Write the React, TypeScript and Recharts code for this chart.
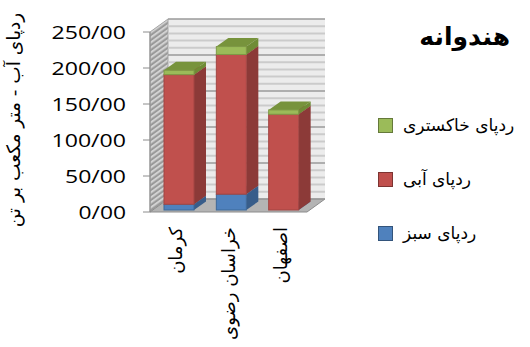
import { Bar, BarChart, CartesianGrid, Legend, XAxis, YAxis } from "recharts"

const categories = ["کرمان", "خراسان رضوی", "اصفهان"]
const greenPrint = [8, 22, 0]
const bluePrint = [180, 194, 133]
const greyPrint = [6, 11, 6]
const yTicks = [0, 50, 100, 150, 200, 250]
const minorTicks = [
	10, 20, 30, 40, 60, 70, 80, 90, 110, 120, 130, 140, 160, 170, 180, 190, 210, 220, 230, 240,
]
const legendOrder = ["grey", "blue", "green"]

const title = "هندوانه"
const yLabel = "ردپای آب - متر مکعب بر تن"

const data = categories.map((name, i) => ({
	name,
	green: greenPrint[i],
	blue: bluePrint[i],
	grey: greyPrint[i],
}))

// front plane of the plot and the 3D offsets used for walls and bars
const W = 530
const H = 347
const PLOT = { left: 150, top: 32, right: 307, bottom: 212 }
const WALL = { dx: 18, dy: -13 }
const BAR_SHIFT = { dx: 3, dy: -2 }
const BAR_DEPTH = { dx: 12, dy: -8.5 }

const faces = {
	green: { front: "#4f81bd", side: "#385d8a", top: "#3f6ea5", edge: "#3d6898" },
	blue: { front: "#c0504d", side: "#8c3a38", top: "#a04340", edge: "#a34542" },
	grey: { front: "#9bbb59", side: "#6f8c36", top: "#77933c", edge: "#7e9a46" },
}

const persian = "'DejaVu Sans', sans-serif"
const latin = "'Open Sans', 'DejaVu Sans', sans-serif"

const shape3D = (f: { front: string; side: string; top: string; edge: string }) => (props: any) => {
	const { x, y, width, height } = props
	if (width == null || height == null) return null
	const fx = x + BAR_SHIFT.dx
	const fy = y + BAR_SHIFT.dy
	const { dx, dy } = BAR_DEPTH
	return (
		<g>
			<polygon
				points={`${fx},${fy} ${fx + dx},${fy + dy} ${fx + width + dx},${fy + dy} ${fx + width},${fy}`}
				fill={f.top}
			/>
			<polygon
				points={`${fx + width},${fy} ${fx + width + dx},${fy + dy} ${fx + width + dx},${fy + height + dy} ${fx + width},${fy + height}`}
				fill={f.side}
			/>
			<rect x={fx} y={fy} width={width} height={height} fill={f.front} stroke={f.edge} strokeWidth={1} />
		</g>
	)
}

const YTick = ({ x, y, payload }: any) => {
	const text = `${payload.value}/00`
	return (
		<text
			x={x}
			y={y}
			dy="0.36em"
			textAnchor="end"
			fontFamily={latin}
			fontSize={18.5}
			fill="#000"
			textLength={13.5 * (text.length - 1) + 7}
			lengthAdjust="spacingAndGlyphs"
		>
			{text}
		</text>
	)
}

const XTick = ({ x, payload }: any) => (
	<text
		transform={`translate(${x}, ${PLOT.bottom + 15}) rotate(-90)`}
		dy="0.35em"
		textAnchor="end"
		fontFamily={persian}
		fontSize={18}
		fill="#000"
	>
		{payload.value}
	</text>
)

const YTitle = ({ viewBox }: any) => {
	const cy = viewBox.y + viewBox.height / 2 - 2
	return (
		<text
			transform={`translate(14, ${cy}) rotate(-90)`}
			dy="0.35em"
			textAnchor="middle"
			fontFamily={persian}
			fontSize={18.5}
			fill="#000"
		>
			{yLabel}
		</text>
	)
}

const gridLine = (stroke: string, width: number) => (props: any) => {
	const { x1, y1, x2, y2 } = props
	return (
		<line
			key={props.key ?? `${y1}`}
			x1={x1 + WALL.dx}
			y1={y1 + WALL.dy}
			x2={x2 + WALL.dx}
			y2={y2 + WALL.dy}
			stroke={stroke}
			strokeWidth={width}
		/>
	)
}

const LegendBox = ({ payload }: any) => {
	const items = [...(payload ?? [])].sort(
		(a: any, b: any) => legendOrder.indexOf(a.dataKey) - legendOrder.indexOf(b.dataKey),
	)
	return (
		<div style={{ fontFamily: persian, fontSize: 17 }}>
			{items.map((p: any, i: number) => (
				<div
					key={p.value}
					style={{ display: "flex", alignItems: "center", height: 26, marginBottom: i < 2 ? 28 : 0 }}
				>
					<span
						style={{
							width: 13,
							height: 13,
							background: p.color,
							border: "1px solid rgba(0,0,0,0.35)",
							marginRight: 10,
						}}
					/>
					<span style={{ direction: "rtl" }}>{p.value}</span>
				</div>
			))}
		</div>
	)
}

// walls, floor and title drawn behind the chart
const Backdrop = () => {
	const { left, top, right, bottom } = PLOT
	const { dx, dy } = WALL
	return (
		<svg width={W} height={H} style={{ position: "absolute", left: 0, top: 0 }}>
			<defs>
				<pattern
					id="sideHatch"
					patternUnits="userSpaceOnUse"
					width={18}
					height={5}
					patternTransform="skewY(-35.8)"
				>
					<rect width={18} height={5} fill="#d2d2d2" />
					<rect y={2.5} width={18} height={2.5} fill="#999" />
				</pattern>
			</defs>
			<rect x={left + dx} y={top + dy} width={right - left} height={bottom - top} fill="#ececec" />
			<polygon
				points={`${left},${top} ${left + dx},${top + dy} ${left + dx},${bottom + dy} ${left},${bottom}`}
				fill="url(#sideHatch)"
				stroke="#a6a6a6"
			/>
			<polygon
				points={`${left},${bottom} ${left + dx},${bottom + dy} ${right + dx},${bottom + dy} ${right},${bottom}`}
				fill="#b4b4b4"
				stroke="#8c8c8c"
			/>
			<text x={510} y={36} dy="0.35em" textAnchor="end" fontFamily={persian} fontWeight="bold" fontSize={25}>
				{title}
			</text>
		</svg>
	)
}

export default function App() {
	return (
		<div style={{ position: "absolute", left: 0, top: 0, width: W, height: H, background: "#fff" }}>
			<Backdrop />
			<div style={{ position: "absolute", left: 0, top: 0 }}>
				<BarChart
					width={W}
					height={H}
					data={data}
					margin={{ top: PLOT.top, right: W - PLOT.right, bottom: 5, left: 0 }}
					barSize={30}
				>
					<CartesianGrid
						vertical={false}
						horizontalValues={minorTicks}
						horizontal={gridLine("#cbcbcb", 2)}
					/>
					<CartesianGrid vertical={false} horizontalValues={yTicks} horizontal={gridLine("#9a9a9a", 1.5)} />
					<XAxis
						dataKey="name"
						height={H - PLOT.bottom - 5}
						axisLine={false}
						tickLine={false}
						interval={0}
						tick={<XTick />}
					/>
					<YAxis
						width={PLOT.left}
						domain={[0, 250]}
						ticks={yTicks}
						interval={0}
						tickSize={7}
						tickMargin={17}
						stroke="#8c8c8c"
						tick={<YTick />}
						label={<YTitle />}
					/>
					<Bar
						dataKey="green"
						name="ردپای سبز"
						stackId="a"
						fill={faces.green.front}
						shape={shape3D(faces.green)}
						isAnimationActive={false}
					/>
					<Bar
						dataKey="blue"
						name="ردپای آبی"
						stackId="a"
						fill={faces.blue.front}
						shape={shape3D(faces.blue)}
						isAnimationActive={false}
					/>
					<Bar
						dataKey="grey"
						name="ردپای خاکستری"
						stackId="a"
						fill={faces.grey.front}
						shape={shape3D(faces.grey)}
						isAnimationActive={false}
					/>
					<Legend
						layout="vertical"
						align="center"
						verticalAlign="middle"
						content={<LegendBox />}
						wrapperStyle={{ left: 378, top: 112, width: 150 }}
					/>
				</BarChart>
			</div>
		</div>
	)
}
